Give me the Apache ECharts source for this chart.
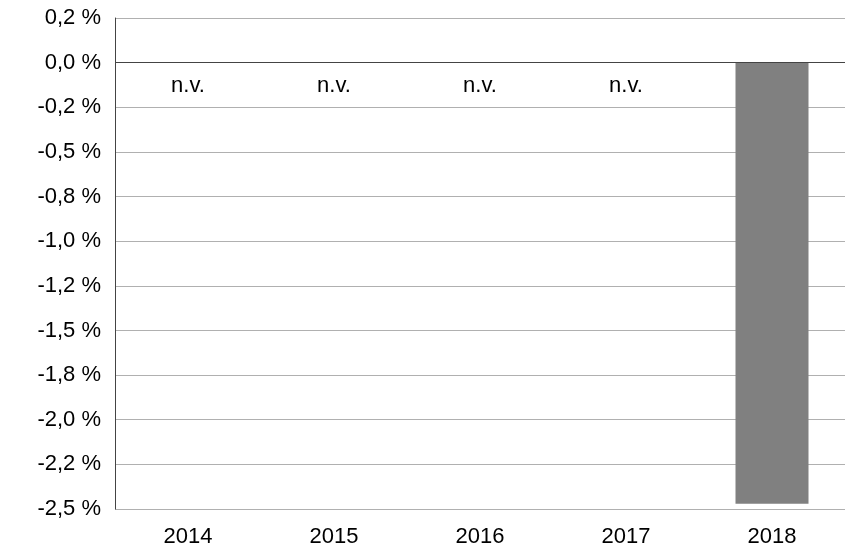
<!DOCTYPE html>
<html>
<head>
<meta charset="utf-8">
<script src="https://cdn.jsdelivr.net/npm/echarts@6/dist/echarts.min.js"></script>
<style>
  html, body { margin: 0; padding: 0; background: #fff; }
  #chart { width: 845px; height: 550px; }
</style>
</head>
<body>
<div id="chart"></div>
<script>
// values in percent, null = keine Angabe (n.v.)
var years = ['2014', '2015', '2016', '2017', '2018'];
var changes = [null, null, null, null, -2.47];
var missingText = 'n.v.';

// one decimal, half-to-even, decimal comma
function pct(v) {
    var x = v * 10;
    var r = Math.round(x);
    if (Math.abs(Math.abs(x - Math.floor(x)) - 0.5) < 1e-9) {
        var f = Math.floor(x);
        r = (f % 2 === 0) ? f : f + 1;
    }
    var s = (r / 10).toFixed(1).replace('.', ',');
    if (s === '-0,0') s = '0,0';
    return s + ' %';
}

var myChart = echarts.init(document.getElementById('chart'));

var barData = [];
for (var i = 0; i < changes.length; i++) {
    if (changes[i] === null) {
        barData.push({
            value: 0,
            label: { show: true, formatter: missingText, position: 'bottom', distance: 12 }
        });
    } else {
        barData.push(changes[i]);
    }
}

var option = {
    animation: false,
    textStyle: { fontFamily: 'Liberation Sans, Arial, sans-serif' },
    grid: { left: 115, right: 0, top: 18, bottom: 41 },
    xAxis: {
        type: 'category',
        data: years,
        axisLine: { show: false },
        axisTick: { show: false },
        axisLabel: { color: '#000', fontSize: 22, margin: 17, fontFamily: 'Liberation Sans' }
    },
    yAxis: {
        type: 'value',
        min: -2.5,
        max: 0.25,
        interval: 0.25,
        axisLine: { show: true, lineStyle: { color: '#444', width: 1 } },
        axisTick: { show: false },
        splitLine: { lineStyle: { color: '#b0b0b0', width: 1 } },
        axisLabel: {
            color: '#000',
            fontSize: 22,
            margin: 14,
            fontFamily: 'Liberation Sans',
            formatter: pct
        }
    },
    series: [{
        type: 'bar',
        data: barData,
        barWidth: '50%',
        itemStyle: { color: '#808080' },
        label: { color: '#000', fontSize: 22, fontFamily: 'Liberation Sans' },
        markLine: {
            silent: true,
            symbol: 'none',
            label: { show: false },
            lineStyle: { color: '#444', width: 1, type: 'solid' },
            data: [{ yAxis: 0 }]
        }
    }]
};

myChart.setOption(option);
</script>
</body>
</html>
